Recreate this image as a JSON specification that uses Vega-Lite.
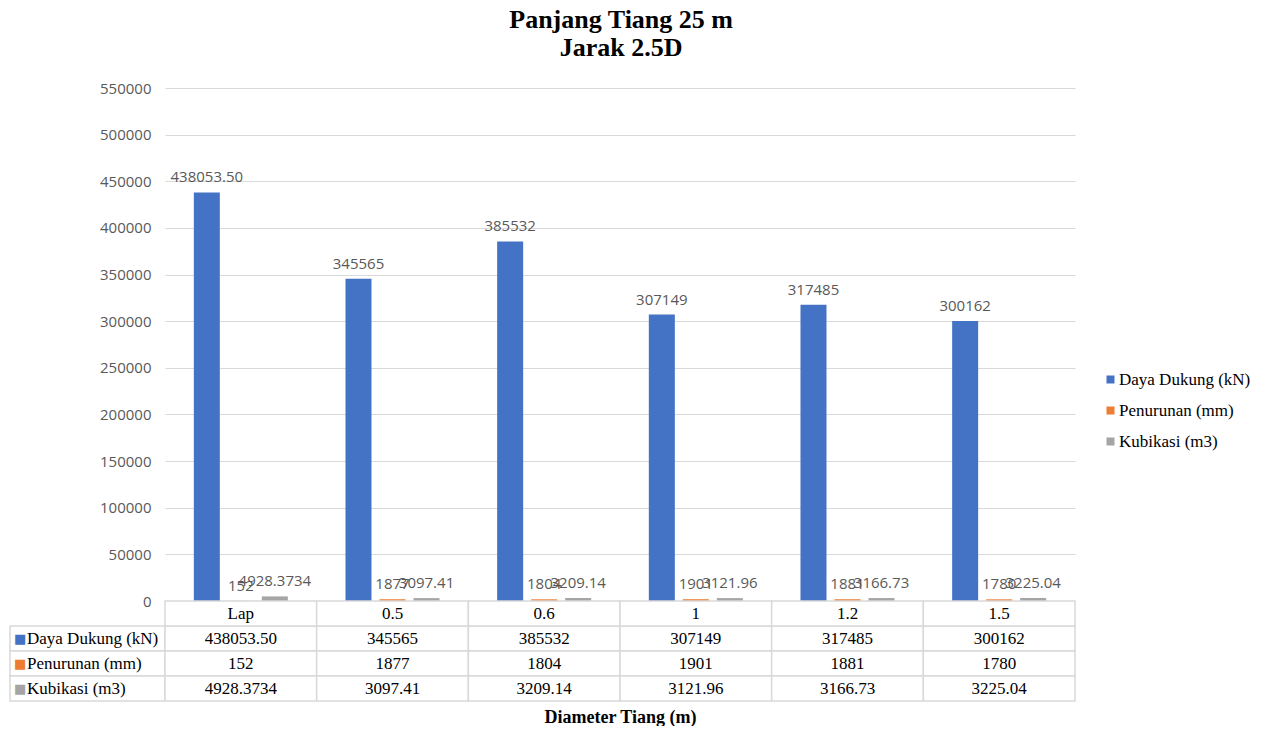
{
  "$schema": "https://vega.github.io/schema/vega-lite/v6.json",
  "padding": {"left": 9, "top": 7, "right": 0, "bottom": 0},
  "background": "white",
  "title": {
    "text": ["Panjang Tiang 25 m", "Jarak 2.5D"],
    "font": "Liberation Serif",
    "fontSize": 26,
    "fontWeight": "bold",
    "color": "black",
    "lineHeight": 28,
    "anchor": "middle",
    "offset": 20,
    "dx": -9
  },
  "datasets": {
    "nilai": [
      {"diameter": "Lap", "seri": "Daya Dukung (kN)", "nilai": 438053.50, "teks": "438053.50"},
      {"diameter": "Lap", "seri": "Penurunan (mm)", "nilai": 152, "teks": "152"},
      {"diameter": "Lap", "seri": "Kubikasi (m3)", "nilai": 4928.3734, "teks": "4928.3734"},
      {"diameter": "0.5", "seri": "Daya Dukung (kN)", "nilai": 345565, "teks": "345565"},
      {"diameter": "0.5", "seri": "Penurunan (mm)", "nilai": 1877, "teks": "1877"},
      {"diameter": "0.5", "seri": "Kubikasi (m3)", "nilai": 3097.41, "teks": "3097.41"},
      {"diameter": "0.6", "seri": "Daya Dukung (kN)", "nilai": 385532, "teks": "385532"},
      {"diameter": "0.6", "seri": "Penurunan (mm)", "nilai": 1804, "teks": "1804"},
      {"diameter": "0.6", "seri": "Kubikasi (m3)", "nilai": 3209.14, "teks": "3209.14"},
      {"diameter": "1", "seri": "Daya Dukung (kN)", "nilai": 307149, "teks": "307149"},
      {"diameter": "1", "seri": "Penurunan (mm)", "nilai": 1901, "teks": "1901"},
      {"diameter": "1", "seri": "Kubikasi (m3)", "nilai": 3121.96, "teks": "3121.96"},
      {"diameter": "1.2", "seri": "Daya Dukung (kN)", "nilai": 317485, "teks": "317485"},
      {"diameter": "1.2", "seri": "Penurunan (mm)", "nilai": 1881, "teks": "1881"},
      {"diameter": "1.2", "seri": "Kubikasi (m3)", "nilai": 3166.73, "teks": "3166.73"},
      {"diameter": "1.5", "seri": "Daya Dukung (kN)", "nilai": 300162, "teks": "300162"},
      {"diameter": "1.5", "seri": "Penurunan (mm)", "nilai": 1780, "teks": "1780"},
      {"diameter": "1.5", "seri": "Kubikasi (m3)", "nilai": 3225.04, "teks": "3225.04"}
    ]
  },
  "columns": 2,
  "spacing": 0,
  "bounds": "flush",
  "resolve": {"scale": {"x": "independent", "y": "independent", "color": "independent"}},
  "concat": [
    {
      "width": 155,
      "height": 513,
      "data": {"values": [{}]},
      "mark": {"type": "text", "text": ""},
      "encoding": {}
    },
    {
      "width": 910,
      "height": 513,
      "data": {"name": "nilai"},
      "encoding": {
        "x": {
          "field": "diameter",
          "type": "nominal",
          "sort": ["Lap", "0.5", "0.6", "1", "1.2", "1.5"],
          "axis": null,
          "scale": {"paddingInner": 0.38, "paddingOuter": 0.19}
        },
        "xOffset": {
          "field": "seri",
          "type": "nominal",
          "sort": ["Daya Dukung (kN)", "Penurunan (mm)", "Kubikasi (m3)"],
          "scale": {"paddingInner": 0.235, "paddingOuter": 0}
        },
        "y": {
          "field": "nilai",
          "type": "quantitative",
          "scale": {"domain": [0, 550000], "nice": false},
          "axis": {
            "title": null,
            "values": [0, 50000, 100000, 150000, 200000, 250000, 300000, 350000, 400000, 450000, 500000, 550000],
            "format": "d",
            "grid": true,
            "gridColor": "#d9d9d9",
            "gridWidth": 1.2,
            "domain": false,
            "ticks": false,
            "labelPadding": 14,
            "labelFont": "Open Sans",
            "labelFontSize": 15,
            "labelColor": "#595959"
          }
        }
      },
      "layer": [
        {
          "mark": {"type": "bar"},
          "encoding": {
            "color": {
              "field": "seri",
              "type": "nominal",
              "scale": {
                "domain": ["Daya Dukung (kN)", "Penurunan (mm)", "Kubikasi (m3)"],
                "range": ["#4472C4", "#ED7D31", "#A5A5A5"]
              },
              "legend": {
                "title": null,
                "orient": "none",
                "legendX": 937,
                "legendY": 283,
                "symbolType": "square",
                "symbolSize": 64,
                "symbolStrokeWidth": 0,
                "labelFont": "Liberation Serif",
                "labelFontSize": 17,
                "labelColor": "black",
                "labelOffset": 0,
                "rowPadding": 13,
                "labelLimit": 300
              }
            }
          }
        },
        {
          "mark": {
            "type": "text",
            "baseline": "alphabetic",
            "dy": -10,
            "font": "Open Sans",
            "fontSize": 15,
            "color": "#595959"
          },
          "encoding": {"text": {"field": "teks"}}
        }
      ]
    },
    {
      "width": 155,
      "height": 100,
      "data": {"name": "nilai"},
      "transform": [{"filter": "datum.diameter === 'Lap'"}],
      "encoding": {
        "y": {
          "field": "seri",
          "type": "nominal",
          "scale": {
            "domain": ["Diameter", "Daya Dukung (kN)", "Penurunan (mm)", "Kubikasi (m3)"],
            "paddingInner": 0,
            "paddingOuter": 0
          },
          "axis": null
        }
      },
      "layer": [
        {
          "mark": {"type": "rect", "fill": "white", "stroke": "#d9d9d9", "strokeWidth": 1.5},
          "encoding": {
            "x": {"datum": "Seri", "type": "nominal", "axis": null, "scale": {"paddingInner": 0, "paddingOuter": 0}}
          }
        },
        {
          "mark": {"type": "text", "text": "■", "align": "left", "dx": 4, "font": "DejaVu Sans", "fontSize": 13, "baseline": "middle"},
          "encoding": {
            "x": {"datum": "Seri", "type": "nominal", "bandPosition": 0, "axis": null},
            "color": {
              "field": "seri",
              "type": "nominal",
              "scale": {
                "domain": ["Daya Dukung (kN)", "Penurunan (mm)", "Kubikasi (m3)"],
                "range": ["#4472C4", "#ED7D31", "#A5A5A5"]
              },
              "legend": null
            }
          }
        },
        {
          "mark": {"type": "text", "align": "left", "dx": 17, "font": "Liberation Serif", "fontSize": 17, "color": "black", "baseline": "middle"},
          "encoding": {
            "x": {"datum": "Seri", "type": "nominal", "bandPosition": 0, "axis": null},
            "text": {"field": "seri"}
          }
        }
      ]
    },
    {
      "width": 910,
      "height": 100,
      "data": {"name": "nilai"},
      "encoding": {
        "x": {
          "field": "diameter",
          "type": "nominal",
          "sort": ["Lap", "0.5", "0.6", "1", "1.2", "1.5"],
          "scale": {"paddingInner": 0, "paddingOuter": 0},
          "axis": {
            "labels": false,
            "ticks": false,
            "domain": false,
            "title": "Diameter Tiang (m)",
            "titleFont": "Liberation Serif",
            "titleFontSize": 18,
            "titleFontWeight": "bold",
            "titleColor": "black",
            "titlePadding": 7
          }
        }
      },
      "layer": [
        {
          "mark": {"type": "rect", "fill": "white", "stroke": "#d9d9d9", "strokeWidth": 1.5},
          "encoding": {
            "y": {
              "field": "seri",
              "type": "nominal",
              "scale": {
                "domain": ["Diameter", "Daya Dukung (kN)", "Penurunan (mm)", "Kubikasi (m3)"],
                "paddingInner": 0,
                "paddingOuter": 0
              },
              "axis": null
            }
          }
        },
        {
          "mark": {"type": "text", "font": "Liberation Serif", "fontSize": 17, "color": "black", "baseline": "middle"},
          "encoding": {
            "y": {"field": "seri", "type": "nominal"},
            "text": {"field": "teks"}
          }
        },
        {
          "transform": [{"filter": "datum.seri === 'Daya Dukung (kN)'"}],
          "mark": {"type": "rect", "fill": "white", "stroke": "#d9d9d9", "strokeWidth": 1.5},
          "encoding": {"y": {"datum": "Diameter", "type": "nominal"}}
        },
        {
          "transform": [{"filter": "datum.seri === 'Daya Dukung (kN)'"}],
          "mark": {"type": "text", "font": "Liberation Serif", "fontSize": 17, "color": "black", "baseline": "middle"},
          "encoding": {
            "y": {"datum": "Diameter", "type": "nominal"},
            "text": {"field": "diameter"}
          }
        }
      ]
    }
  ],
  "config": {"view": {"stroke": null}}
}
